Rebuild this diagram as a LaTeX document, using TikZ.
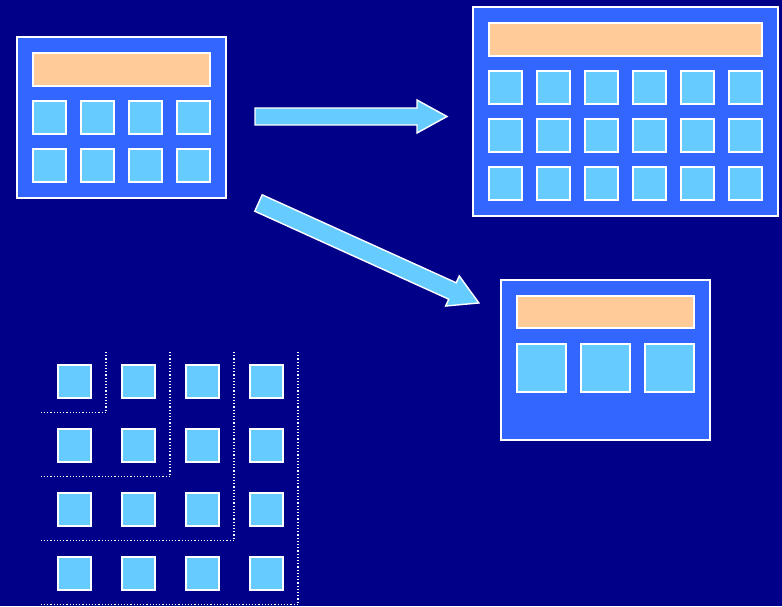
\documentclass[tikz,border=0pt]{standalone}
\usepackage{tikz}
\usetikzlibrary{calc}
\definecolor{navy}{RGB}{0,0,136}
\definecolor{panelblue}{RGB}{51,102,255}
\definecolor{cellblue}{RGB}{102,204,255}
\definecolor{peach}{RGB}{255,204,153}

\begin{document}
\begin{tikzpicture}[
    x=1pt, y=-1pt,
    panel/.style={rectangle, draw=white, line width=1.6pt, fill=panelblue, anchor=north west, inner sep=0pt},
    bar/.style={rectangle, draw=white, line width=1.6pt, fill=peach, anchor=north west, inner sep=0pt, minimum height=33pt},
    cell/.style={rectangle, draw=white, line width=1.6pt, fill=cellblue, anchor=north west, inner sep=0pt, minimum size=33pt},
    bigcell/.style={cell, minimum width=49pt, minimum height=48pt},
    blockarr/.style={draw=white, line width=1.4pt, fill=cellblue, line join=miter},
    gridline/.style={white, dotted, line width=1.2pt},
]
    \fill[navy] (0,0) rectangle (782,606);
    \useasboundingbox (0,0) rectangle (782,606);

    \node[panel, minimum width=209pt, minimum height=161pt] (small) at (16,36) {};
    \node[bar, minimum width=177pt] (smallbar) at (32,52) {};
    \foreach \r in {0,1}
      \foreach \c in {0,...,3}
        \node[cell] (small-\r-\c) at ({32+48*\c},{100+48*\r}) {};

    \node[panel, minimum width=305pt, minimum height=209pt] (wide) at (472,6) {};
    \node[bar, minimum width=273pt] (widebar) at (488,22) {};
    \foreach \r in {0,1,2}
      \foreach \c in {0,...,5}
        \node[cell] (wide-\r-\c) at ({488+48*\c},{70+48*\r}) {};

    \node[panel, minimum width=209pt, minimum height=160pt] (coarse) at (500,279) {};
    \node[bar, minimum width=177pt, minimum height=32pt] (coarsebar) at (516,295) {};
    \foreach \c in {0,1,2}
      \node[bigcell] (coarse-\c) at ({516+64*\c},343) {};

    \foreach \r in {0,...,3}
      \foreach \c in {0,...,3}
        \node[cell] (tile-\r-\c) at ({57+64*\c},{364+64*\r}) {};
    \foreach \k in {1,...,4}
      \draw[gridline] ({42+64*\k},352) |- (41,{348.7+64*\k});

    \draw[blockarr] (255,108) -- (417,108) -- (417,100) -- (447,116.5) -- (417,133) -- (417,125) -- (255,125) -- cycle;
    \begin{scope}[shift={(258.5,203)}, rotate=-24.4]
      \draw[blockarr] (0,-9) -- (213,-9) -- (213,-16.5) -- (242,0) -- (213,16.5) -- (213,9) -- (0,9) -- cycle;
    \end{scope}
\end{tikzpicture}
\end{document}
